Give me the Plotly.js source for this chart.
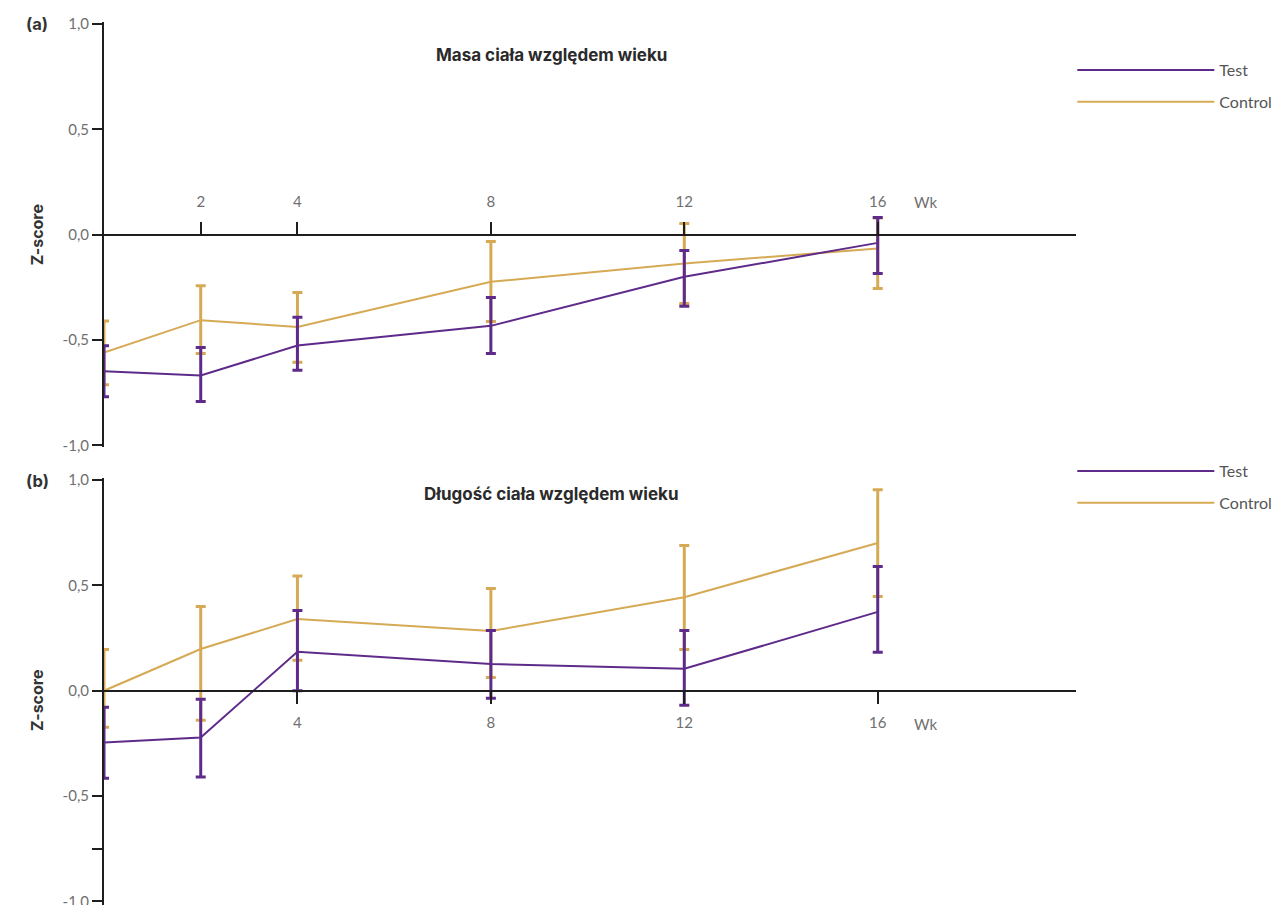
<!DOCTYPE html>
<html><head><meta charset="utf-8">
<script src="https://cdn.plot.ly/plotly-3.0.1.min.js"></script>
<style>html,body{margin:0;padding:0;background:#fff;overflow:hidden;width:1271px;height:905px;}</style>
</head><body>
<div id="chart" style="width:1271px;height:925px;"></div>
<script>
// ---- data ----
const weeks = [0, 2, 4, 8, 12, 16];
const seriesNames = ["Test", "Control"];

// (a) Masa ciała względem wieku
const massTest        = [-0.648, -0.669, -0.526, -0.433, -0.200, -0.039];
const massTestUp      = [0.121, 0.133, 0.134, 0.135, 0.125, 0.121];
const massTestDown    = [0.122, 0.123, 0.118, 0.131, 0.140, 0.145];
const massControl     = [-0.560, -0.406, -0.438, -0.224, -0.137, -0.066];
const massControlUp   = [0.150, 0.163, 0.163, 0.192, 0.190, 0.145];
const massControlDown = [0.152, 0.158, 0.168, 0.188, 0.190, 0.190];

// (b) Długość ciała względem wieku
const lenTest         = [-0.246, -0.222, 0.185, 0.127, 0.104, 0.374];
const lenTestUp       = [0.167, 0.182, 0.196, 0.159, 0.182, 0.215];
const lenTestDown     = [0.169, 0.188, 0.185, 0.163, 0.173, 0.192];
const lenControl      = [0.000, 0.198, 0.340, 0.283, 0.444, 0.701];
const lenControlUp    = [0.196, 0.202, 0.205, 0.202, 0.245, 0.253];
const lenControlDown  = [0.173, 0.338, 0.196, 0.220, 0.248, 0.254];

const titleA = "Masa ciała względem wieku";
const titleB = "Długość ciała względem wieku";
const xTicksA = [2, 4, 8, 12, 16];
const xTicksB = [4, 8, 12, 16];
const yTicksA = [-1, -0.5, 0, 0.5, 1];
const yTickTextA = ["-1,0", "-0,5", "0,0", "0,5", "1,0"];
const yTicksB = [-1, -0.75, -0.5, 0, 0.5, 1];
const yTickTextB = ["-1,0", "", "-0,5", "0,0", "0,5", "1,0"];

// ---- style ----
const PURPLE = "#5e2b8b";
const GOLD = "#d6aa55";
const AX = "#1e1e1e";
const GREY = "#6f6f6f";
const FONT = "Lato, 'Open Sans', sans-serif";
const BFONT = "Inter, 'Open Sans', sans-serif";
const W = 1271, H = 925;

// pixel-based domains (top/bottom pixel of each y axis)
const domA = [1 - 447.4/H, 1 - 21.9/H], rangeA = [-1.01, 1.01];
const rangeB = [-1.1, 1.01];
const domB = [1 - (477.9 + 2.11*210.7)/H, 1 - 477.9/H];
function zeroPos(dom, rng){ return dom[0] + (0 - rng[0]) / (rng[1] - rng[0]) * (dom[1] - dom[0]); }

function tr(name, y, up, down, color, xa, ya, leg, rank){
  return {
    type: "scatter", mode: "lines", name: name, x: weeks, y: y,
    xaxis: xa, yaxis: ya, legend: leg, legendrank: rank, legendgroup: leg + name,
    line: {color: color, width: 2},
    error_y: {type: "data", symmetric: false, array: up, arrayminus: down,
              color: color, thickness: 3, width: 5},
    hoverinfo: "x+y"
  };
}

const data = [
  tr(seriesNames[1], massControl, massControlUp, massControlDown, GOLD, "x", "y", "legend", 2),
  tr(seriesNames[0], massTest, massTestUp, massTestDown, PURPLE, "x", "y", "legend", 1),
  tr(seriesNames[1], lenControl, lenControlUp, lenControlDown, GOLD, "x2", "y2", "legend2", 2),
  tr(seriesNames[0], lenTest, lenTestUp, lenTestDown, PURPLE, "x2", "y2", "legend2", 1)
];

const xCommon = {
  range: [0, 20.1], domain: [0, 1], anchor: "free",
  showgrid: false, zeroline: false, showline: true, linecolor: AX, linewidth: 2,
  ticks: "outside", ticklen: 12, tickwidth: 2, tickcolor: AX,
  tickfont: {family: FONT, size: 15, color: GREY}, fixedrange: true
};
const yCommon = {
  showgrid: false, zeroline: false, showline: true, linecolor: AX, linewidth: 2,
  ticks: "outside", ticklen: 10, tickwidth: 2, tickcolor: AX,
  tickfont: {family: FONT, size: 15, color: GREY}, fixedrange: true,
  title: {text: "Z-score", font: {family: BFONT, size: 16, color: "#333", weight: 700}, standoff: 15}
};

const legCommon = {
  xref: "container", yref: "container",
  xanchor: "left", yanchor: "top", bgcolor: "rgba(0,0,0,0)",
  font: {family: FONT, size: 16, color: "#555"},
  itemwidth: 137, tracegroupgap: 8, traceorder: "grouped", itemclick: false
};

const layout = {
  width: W, height: H,
  margin: {l: 104, r: 195, t: 0, b: 0, autoexpand: false},
  paper_bgcolor: "#fff", plot_bgcolor: "rgba(0,0,0,0)",
  showlegend: true,
  xaxis: Object.assign({}, xCommon, {position: zeroPos(domA, rangeA), side: "top", ticklabelstandoff: 9, tickvals: xTicksA, ticktext: xTicksA.map(String)}),
  yaxis: Object.assign({}, yCommon, {domain: domA, range: rangeA, anchor: "x", tickvals: yTicksA, ticktext: yTickTextA}),
  xaxis2: Object.assign({}, xCommon, {position: zeroPos(domB, rangeB), side: "bottom", ticklabelstandoff: 6, tickvals: xTicksB, ticktext: xTicksB.map(String)}),
  yaxis2: Object.assign({}, yCommon, {domain: domB, range: rangeB, anchor: "x2", tickvals: yTicksB, ticktext: yTickTextB}),
  legend: Object.assign({}, legCommon, {x: 1072.3/W, y: 1 - 53/H}),
  legend2: Object.assign({}, legCommon, {x: 1072.3/W, y: 1 - 454/H}),
  annotations: [
    {text: "<b>" + titleA + "</b>", xref: "paper", yref: "paper", x: (551-104)/972, y: 1 - 55/H, showarrow: false,
     font: {family: BFONT, size: 17, color: "#2a2a2a"}, xanchor: "center", yanchor: "middle"},
    {text: "<b>" + titleB + "</b>", xref: "paper", yref: "paper", x: (551-104)/972, y: 1 - 494/H, showarrow: false,
     font: {family: BFONT, size: 17, color: "#2a2a2a"}, xanchor: "center", yanchor: "middle"},
    {text: "<b>(a)</b>", xref: "paper", yref: "paper", x: (37-104)/972, y: 1 - 24/H, showarrow: false,
     font: {family: BFONT, size: 16.5, color: "#333"}, xanchor: "center", yanchor: "middle"},
    {text: "<b>(b)</b>", xref: "paper", yref: "paper", x: (37-104)/972, y: 1 - 481/H, showarrow: false,
     font: {family: BFONT, size: 16.5, color: "#333"}, xanchor: "center", yanchor: "middle"},
    {text: "Wk", xref: "x", yref: "y", x: 16.7, y: 0, yshift: 33, showarrow: false, xanchor: "left",
     font: {family: FONT, size: 15, color: GREY}},
    {text: "Wk", xref: "x2", yref: "y2", x: 16.7, y: 0, yshift: -33, showarrow: false, xanchor: "left",
     font: {family: FONT, size: 15, color: GREY}}
  ]
};

Plotly.newPlot("chart", data, layout, {displayModeBar: false, staticPlot: true});
</script>
</body></html>
